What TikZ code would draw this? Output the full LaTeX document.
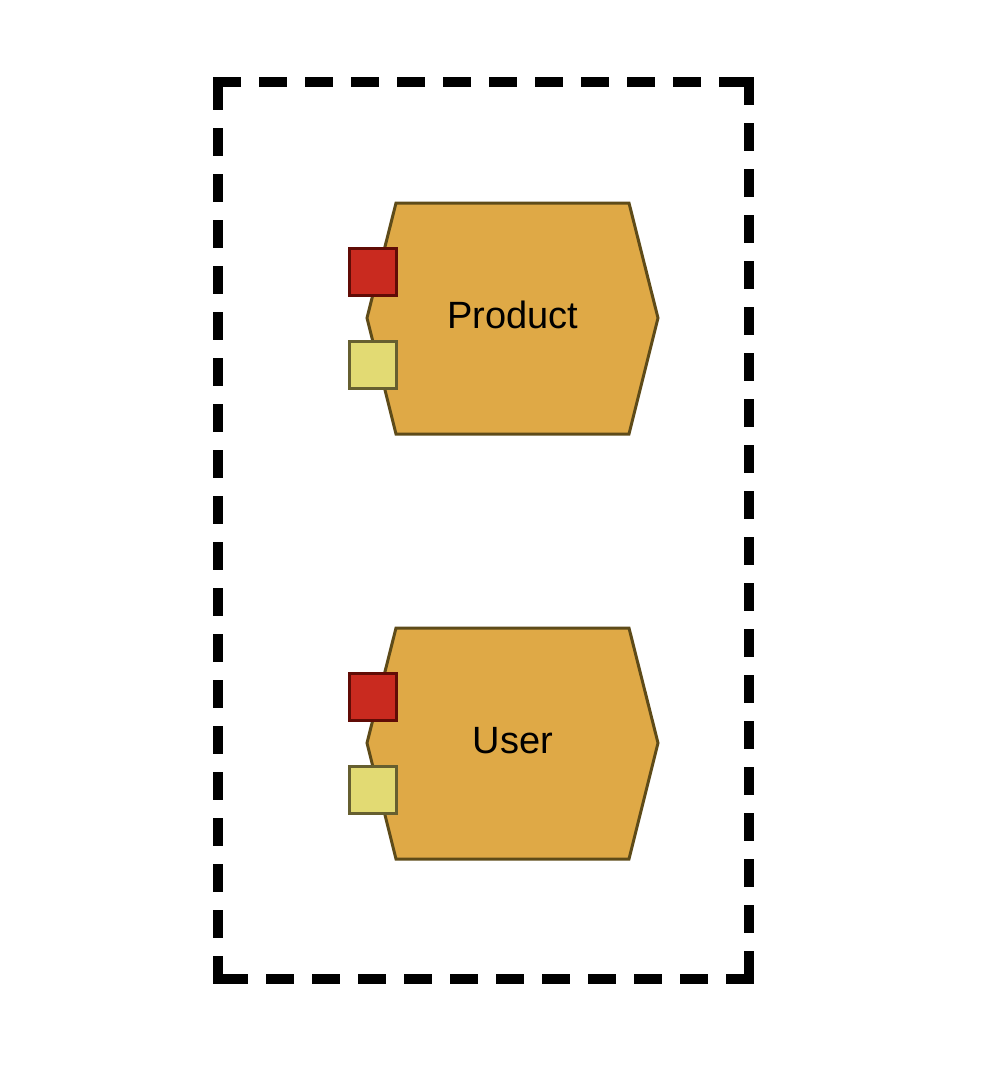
\documentclass[tikz,border=0pt]{standalone}
\usepackage{fontspec}
\setmainfont{Liberation Sans}
\definecolor{modfill}{RGB}{223,169,70}
\definecolor{modline}{RGB}{94,75,25}
\definecolor{redfill}{RGB}{201,42,31}
\definecolor{redline}{RGB}{97,12,6}
\definecolor{yelfill}{RGB}{226,218,115}
\definecolor{yelline}{RGB}{102,95,48}
\tikzset{
  frame/.style={line width=5pt,line cap=rect,dash pattern=on 9pt off 14pt},
  module/.style={fill=modfill,draw=modline,line width=1.5pt,line join=miter},
  redport/.style={rectangle,fill=redfill,draw=redline,line width=1.5pt,inner sep=0pt,minimum size=23.5pt},
  yelport/.style={rectangle,fill=yelfill,draw=yelline,line width=1.5pt,inner sep=0pt,minimum size=23.5pt},
  modname/.style={anchor=base,font=\fontsize{19}{22}\selectfont}
}
\begin{document}
\begin{tikzpicture}[x=0.5pt,y=-0.5pt]
\useasboundingbox (0,0) rectangle (984,1066);
\coordinate (tl) at (218,82);
\coordinate (tr) at (749,82);
\coordinate (br) at (749,979);
\coordinate (bl) at (218,979);
\draw[frame] (tl) -- (tr);
\draw[frame] (tr) -- (br);
\draw[frame] (br) -- (bl);
\draw[frame] (bl) -- (tl);

\draw[module] (396,203) -- (629,203) -- (658,318) -- (629,434) -- (396,434) -- (367,318) -- cycle;
\node[redport] (productred) at (373,272) {};
\node[yelport] (productyel) at (373,365) {};
\node[modname] (product) at (513,328) {Product};

\draw[module] (396,628) -- (629,628) -- (658,743) -- (629,859) -- (396,859) -- (367,743) -- cycle;
\node[redport] (userred) at (373,697) {};
\node[yelport] (useryel) at (373,790) {};
\node[modname] (user) at (513,753) {User};
\end{tikzpicture}
\end{document}
